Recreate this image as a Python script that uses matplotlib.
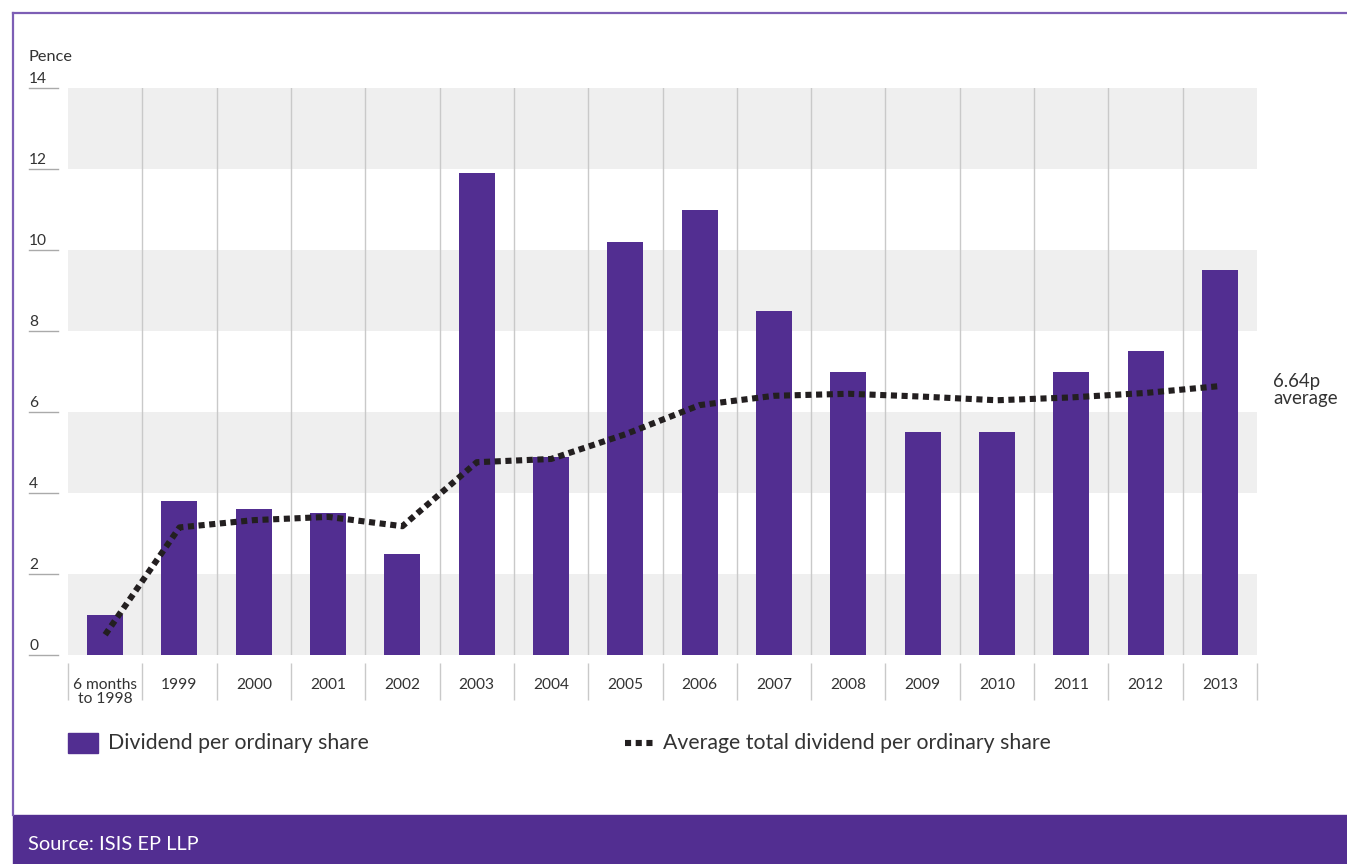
"""
Dividend per ordinary share, 6 months to 1998 through 2013,
with the running average total dividend drawn as a dotted line.
"""

import matplotlib.pyplot as plt
from matplotlib.lines import Line2D
from matplotlib.patches import Rectangle

YEARS = ["6 months\nto 1998", "1999", "2000", "2001", "2002", "2003", "2004", "2005",
         "2006", "2007", "2008", "2009", "2010", "2011", "2012", "2013"]
DIVIDEND = [1.0, 3.8, 3.6, 3.5, 2.5, 11.9, 4.9, 10.2, 11.0, 8.5, 7.0, 5.5, 5.5, 7.0, 7.5, 9.5]
AVERAGE = [0.5, 3.15, 3.33, 3.41, 3.18, 4.76, 4.84, 5.45, 6.17, 6.4, 6.45, 6.38, 6.29, 6.36,
           6.47, 6.64]
YTICKS = [0, 2, 4, 6, 8, 10, 12, 14]

PURPLE = "#522e91"
BORDER = "#7d5eb5"
BAND = "#efefef"
SEP = "#c9c9c9"
TEXT = "#333333"
DOTS = "#231f20"
FONT = "Lato"

W, H = 1347, 864


def fx(px):
    return px / W


def fy(py):
    return 1 - py / H


def main() -> None:
    plt.rcParams["font.family"] = [FONT, "DejaVu Sans"]
    fig = plt.figure(figsize=(W / 100, H / 100), dpi=100)
    ax = fig.add_axes([fx(68), fy(655), (1257 - 68) / W, (655 - 88) / H])

    n = len(YEARS)
    xs = list(range(n))

    # alternating grey bands
    for lo in YTICKS[:-1:2]:
        ax.axhspan(lo, lo + 2, color=BAND, lw=0, zorder=0)
    for i in range(n - 1):
        ax.axvline(i + 0.5, color=SEP, lw=1, zorder=1)

    ax.bar(xs, DIVIDEND, width=0.485, color=PURPLE, zorder=2)
    ax.plot(xs, AVERAGE, color=DOTS, lw=4.4, linestyle=(0, (1, 0.75)),
            dash_capstyle="butt", zorder=3)

    ax.set_xlim(-0.5, n - 0.5)
    ax.set_ylim(0, 14)
    for s in ax.spines.values():
        s.set_visible(False)
    ax.set_yticks([])
    ax.set_xticks(xs)
    ax.set_xticklabels(YEARS, fontsize=11.2, color=TEXT, linespacing=1.05)
    ax.tick_params(axis="x", length=0, pad=16.5)

    # separators in the category label row
    ax.vlines([i - 0.5 for i in range(n + 1)], -0.2, -1.11, color=SEP, lw=1, clip_on=False)

    # y ticks: short rules outside the plot with labels sitting on top
    ytr = ax.get_yaxis_transform()
    for v in YTICKS:
        ax.plot([-0.0328, -0.0084], [v, v], color="#aaaaaa", lw=1, transform=ytr, clip_on=False)
        ax.text(-0.0328, v + 0.06, str(v), transform=ytr, fontsize=11.2, color=TEXT,
                ha="left", va="bottom")
    fig.text(fx(29), fy(57), "Pence", fontsize=11.8, color=TEXT, ha="left", va="center")

    ax.text(15.72, 6.55, "6.64p\naverage", fontsize=13.4, color=TEXT, ha="left", va="center",
            linespacing=1.0)

    # legend
    fig.add_artist(Rectangle((fx(68), fy(753)), fx(30), 20 / H, color=PURPLE,
                             transform=fig.transFigure))
    fig.text(fx(108), fy(743), "Dividend per ordinary share", fontsize=15.3, color=TEXT,
             ha="left", va="center")
    fig.add_artist(Line2D([fx(625), fx(656)], [fy(743), fy(743)], color=DOTS, lw=4.4,
                          linestyle=(0, (1, 0.75)), dash_capstyle="butt",
                          transform=fig.transFigure))
    fig.text(fx(663), fy(743), "Average total dividend per ordinary share", fontsize=15.3,
             color=TEXT, ha="left", va="center")

    # frame and source band
    fig.add_artist(Line2D([fx(13), 1], [fy(13), fy(13)], color=BORDER, lw=1.6,
                          transform=fig.transFigure))
    fig.add_artist(Line2D([fx(13), fx(13)], [fy(13), fy(815)], color=BORDER, lw=1.6,
                          transform=fig.transFigure))
    fig.add_artist(Rectangle((fx(13), 0), 1 - fx(13), 49 / H, color=PURPLE,
                             transform=fig.transFigure))
    fig.text(fx(28), fy(845), "Source: ISIS EP LLP", fontsize=14.4, color="white",
             ha="left", va="center")

    fig.savefig("out.png", dpi=100)
    plt.close(fig)


if __name__ == "__main__":
    main()
